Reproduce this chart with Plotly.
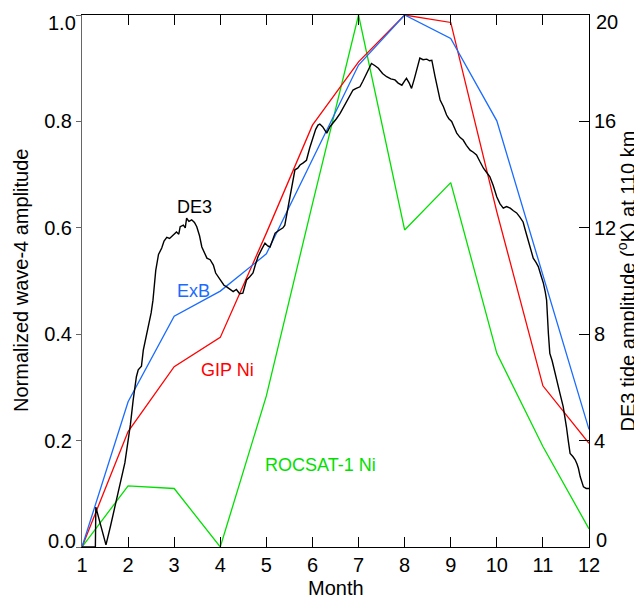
import plotly.graph_objects as go

months = list(range(1, 13))
exb = [0.0, 0.273, 0.434, 0.481, 0.551, 0.73, 0.906, 1.0, 0.956, 0.801, 0.511, 0.221]
gip = [0.0, 0.217, 0.339, 0.394, 0.59, 0.793, 0.912, 1.0, 0.986, 0.63, 0.303, 0.195]
rocsat = [0.0, 0.115, 0.110, 0.0, 0.284, 0.645, 1.0, 0.596, 0.685, 0.364, 0.189, 0.034]

de3_month = [1.00, 1.29, 1.30, 1.52, 1.62, 1.75, 1.85, 1.93, 2.00, 2.05, 2.11, 2.18, 2.22, 2.29, 2.33,
             2.37, 2.43, 2.50, 2.54, 2.60, 2.66, 2.73, 2.78, 2.84, 2.90, 2.98, 3.05, 3.10, 3.13, 3.20,
             3.24, 3.27, 3.32, 3.38, 3.44, 3.49, 3.55, 3.60, 3.66, 3.71, 3.78, 3.85, 3.90, 3.96, 4.02,
             4.08, 4.14, 4.20, 4.28, 4.35, 4.42, 4.49, 4.53, 4.57, 4.64, 4.71, 4.76, 4.82, 4.90, 4.97,
             5.03, 5.08, 5.14, 5.19, 5.27, 5.36, 5.40, 5.44, 5.51, 5.56, 5.62, 5.68, 5.73, 5.80, 5.87,
             5.94, 6.01, 6.07, 6.12, 6.16, 6.22, 6.31, 6.38, 6.45, 6.52, 6.60, 6.67, 6.74, 6.81, 6.88,
             6.95, 7.03, 7.09, 7.14, 7.21, 7.28, 7.35, 7.43, 7.52, 7.61, 7.70, 7.79, 7.86, 7.94, 8.00,
             8.04, 8.10, 8.15, 8.21, 8.26, 8.33, 8.40, 8.48, 8.54, 8.59, 8.66, 8.72, 8.77, 8.84, 8.91,
             8.96, 9.02, 9.08, 9.13, 9.20, 9.27, 9.34, 9.42, 9.49, 9.56, 9.63, 9.71, 9.78, 9.85, 9.92,
             10.00, 10.07, 10.14, 10.21, 10.29, 10.36, 10.43, 10.50, 10.57, 10.62, 10.68, 10.74, 10.79,
             10.85, 10.90, 10.96, 11.01, 11.05, 11.08, 11.12, 11.15, 11.20, 11.26, 11.33, 11.38, 11.44,
             11.48, 11.51, 11.55, 11.59, 11.65, 11.70, 11.74, 11.77, 11.81, 11.85, 11.88, 11.94, 12.00]
de3_amp_k = [0.0, 0.0, 1.5, 0.08, 0.8, 1.76, 2.6, 3.16, 4.0, 4.6, 5.52, 6.4, 6.66, 6.8, 7.4,
             7.72, 8.16, 8.8, 9.28, 10.4, 11.0, 11.24, 11.5, 11.64, 11.6, 11.72, 11.84, 11.76, 12.04, 12.1,
             12.0, 12.36, 12.24, 12.3, 12.2, 12.04, 11.7, 11.28, 11.04, 10.86, 10.8, 10.6, 10.3, 10.16, 10.0,
             9.84, 9.78, 9.7, 9.6, 9.68, 9.52, 9.54, 9.8, 10.04, 10.16, 10.3, 10.6, 10.92, 11.2, 11.42,
             11.32, 11.28, 11.56, 11.8, 11.9, 12.0, 12.1, 12.5, 13.04, 13.6, 14.18, 14.24, 14.36, 14.44, 14.54,
             15.0, 15.42, 15.7, 15.86, 15.9, 15.8, 15.56, 15.8, 15.94, 16.1, 16.3, 16.52, 16.74, 16.96, 17.18,
             17.24, 17.3, 17.5, 17.68, 17.94, 18.18, 18.1, 18.0, 17.8, 17.68, 17.6, 17.56, 17.44, 17.36, 17.52,
             17.62, 17.44, 17.24, 17.6, 17.94, 18.38, 18.32, 18.34, 18.28, 18.3, 17.68, 17.24, 16.8, 16.56, 16.24,
             16.1, 16.0, 15.76, 15.56, 15.4, 15.3, 15.1, 14.92, 14.84, 14.74, 14.5, 14.24, 14.08, 13.92, 13.6,
             13.16, 12.9, 12.74, 12.8, 12.74, 12.64, 12.56, 12.4, 12.22, 11.9, 11.54, 11.2, 10.86,
             10.7, 10.54, 10.2, 9.92, 9.6, 9.28, 8.0, 7.28, 7.0, 6.6, 6.02, 5.7, 5.28,
             4.9, 4.52, 4.0, 3.52, 3.4, 3.28, 3.12, 2.96, 2.64, 2.4, 2.26, 2.2, 2.2]

x_ticks = list(range(1, 13))
y_left_ticks = [0.0, 0.2, 0.4, 0.6, 0.8, 1.0]
y_left_ticktext = ["0.0", "0.2", "0.4", "0.6", "0.8", "1.0"]
y_right_ticks = [0, 4, 8, 12, 16, 20]
y_right_ticktext = ["0", "4", "8", "12", "16", "20"]

FONT = "Liberation Sans, Arial, Helvetica, sans-serif"
BLUE = "#1a6bff"
RED = "#ff0000"
GREEN = "#00e000"

fig = go.Figure()
fig.add_trace(go.Scatter(x=months, y=rocsat, mode="lines", line=dict(color=GREEN, width=1.3), yaxis="y"))
fig.add_trace(go.Scatter(x=months, y=gip, mode="lines", line=dict(color=RED, width=1.3), yaxis="y"))
fig.add_trace(go.Scatter(x=months, y=exb, mode="lines", line=dict(color=BLUE, width=1.3), yaxis="y"))
fig.add_trace(go.Scatter(x=de3_month, y=de3_amp_k, mode="lines", line=dict(color="black", width=1.4), yaxis="y2"))

labels = [
    ("DE3", 3.43, 0.639, "black"),
    ("ExB", 3.41, 0.482, BLUE),
    ("GIP Ni", 4.16, 0.333, RED),
    ("ROCSAT-1 Ni", 6.18, 0.154, GREEN),
]
annotations = []
for txt, xx, yy, col in labels:
    annotations.append(dict(text=txt, x=xx, y=yy, xref="x", yref="y", showarrow=False,
                            font=dict(family=FONT, size=18, color=col), xanchor="center", yanchor="middle"))

# end tick labels are nudged inward (as in the original figure), so draw them as annotations
left_inner_text = [""] + y_left_ticktext[1:-1] + [""]
right_inner_text = [""] + y_right_ticktext[1:-1] + [""]
for val, txt, shift in [(y_left_ticks[0], y_left_ticktext[0], 6.5), (y_left_ticks[-1], y_left_ticktext[-1], -7.5)]:
    annotations.append(dict(text=txt, x=-0.008, y=val, xref="paper", yref="y", showarrow=False,
                            xanchor="right", yanchor="middle", yshift=shift,
                            font=dict(family=FONT, size=20, color="black")))
for val, txt, shift in [(y_right_ticks[0], y_right_ticktext[0], 7), (y_right_ticks[-1], y_right_ticktext[-1], -7)]:
    annotations.append(dict(text=txt, x=1.010, y=val, xref="paper", yref="y2", showarrow=False,
                            xanchor="left", yanchor="middle", yshift=shift,
                            font=dict(family=FONT, size=20, color="black")))

annotations += [
    dict(text="Month", x=0.5, y=-0.077, xref="paper", yref="paper", showarrow=False,
         font=dict(family=FONT, size=20, color="black"), xanchor="center", yanchor="middle"),
    dict(text="Normalized wave-4 amplitude", x=-0.1203, y=0.5, xref="paper", yref="paper", showarrow=False,
         textangle=-90, font=dict(family=FONT, size=20, color="black"), xanchor="center", yanchor="middle"),
    dict(text="DE3 tide amplitude (<sup>o</sup>K) at 110 km", x=1.072, y=0.5, xref="paper", yref="paper",
         showarrow=False, textangle=-90, font=dict(family=FONT, size=20, color="black"),
         xanchor="center", yanchor="middle"),
]

# The page body has an 8px default margin, so the figure is 8px smaller than the window
fig.update_layout(
    template="none",
    width=634, height=591,
    margin=dict(l=74, r=53, t=7, b=52, autoexpand=False),
    paper_bgcolor="white", plot_bgcolor="white",
    showlegend=False,
    font=dict(family=FONT, size=20, color="black"),
    xaxis=dict(range=[1, 12], tickvals=x_ticks, ticks="inside", ticklen=10, tickwidth=1.3,
               tickcolor="black", showline=True, linecolor="black", linewidth=1, mirror="ticks",
               showgrid=False, zeroline=False, tickfont=dict(size=20), automargin=False,
               ticklabeloverflow="allow"),
    xaxis2=dict(range=[1, 12], tickvals=x_ticks, overlaying="x", side="top", anchor="y",
                ticks="inside", ticklen=10, tickwidth=1.3, tickcolor="black", showline=True,
                linecolor="black", linewidth=1, showticklabels=False, showgrid=False,
                zeroline=False, automargin=False),
    yaxis=dict(range=[0, 1], tickvals=y_left_ticks, ticktext=left_inner_text, ticks="outside", ticklen=5,
               tickcolor="#666", showline=True, linecolor="#666", linewidth=1,
               showgrid=False, zeroline=False, tickfont=dict(size=20), automargin=False,
               ticklabeloverflow="allow"),
    yaxis2=dict(range=[0, 20], tickvals=y_right_ticks, ticktext=right_inner_text, overlaying="y",
                side="right", ticks="inside", ticklen=10, tickcolor="black", showline=True,
                linecolor="black", linewidth=1, showgrid=False, zeroline=False,
                tickfont=dict(size=20), automargin=False, ticklabeloverflow="allow"),
    annotations=annotations,
)

fig.write_html("out.html")
